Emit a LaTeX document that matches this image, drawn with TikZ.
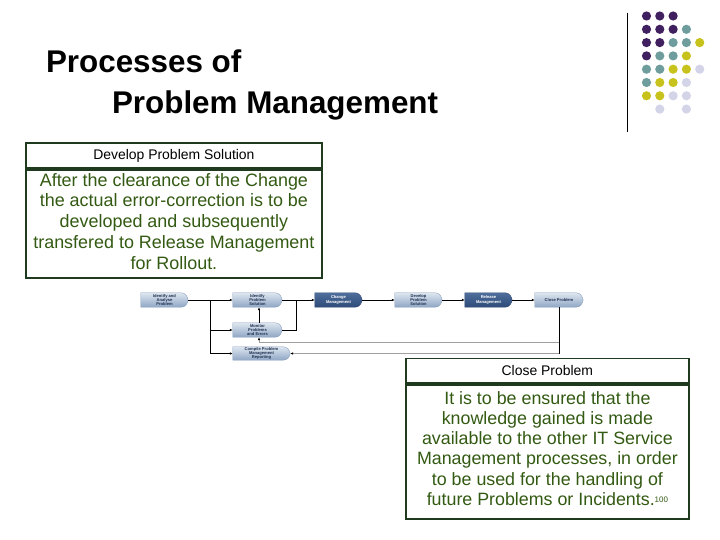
\documentclass[tikz,border=0pt]{standalone}
\usepackage{fontspec}
\setmainfont{Liberation Sans}
\usetikzlibrary{arrows.meta,backgrounds}
\definecolor{dpur}{HTML}{40205E}
\definecolor{dteal}{HTML}{6F9C9C}
\definecolor{dyel}{HTML}{C8C31C}
\definecolor{dlav}{HTML}{D4D4E8}
\definecolor{txtgreen}{HTML}{335A12}
\definecolor{boxline}{HTML}{1F3A1F}
\definecolor{lighttop}{HTML}{DDE6F0}
\definecolor{lightbot}{HTML}{8FA6C4}
\definecolor{darktop}{HTML}{4E6E9C}
\definecolor{darkbot}{HTML}{2E4A78}
\definecolor{feedgray}{HTML}{A0A0A0}
\definecolor{navytext}{HTML}{203050}
\definecolor{lightedge}{HTML}{7F96B6}
\definecolor{darkedge}{HTML}{2A4470}
\newcommand\flowshape[2]{%
  \path[#2] (#1.north west) -- ([xshift=-7bp]#1.north east)
    to[out=0,in=100] (#1.east) to[out=-100,in=0] ([xshift=-7bp]#1.south east)
    -- (#1.south west) -- cycle;}
\begin{document}
\begin{tikzpicture}[x=1bp,y=-1bp,
  titletext/.style={anchor=base west,font=\bfseries\fontsize{31.5}{36}\selectfont},
  hdrbox/.style={draw=boxline,line width=1.8bp,anchor=north west,inner sep=0pt,
    font=\fontsize{14}{16}\selectfont,text=black},
  framebox/.style={draw=boxline,line width=1.8bp,anchor=north west,inner sep=0pt},
  bodytext/.style={inner sep=0pt,align=center,text=txtgreen},
  fbox/.style={minimum height=14bp,inner sep=0pt,align=center,
    font=\fontsize{4.1}{4.3}\selectfont\bfseries},
  lightf/.style={fbox,text=navytext},
  darkf/.style={fbox,text=white},
  lightfill/.style={top color=lighttop,bottom color=lightbot,draw=lightedge,line width=0.3bp},
  darkfill/.style={top color=darktop,bottom color=darkbot,draw=darkedge,line width=0.3bp},
  conn/.style={line width=0.9bp,black},
  arr/.style={conn,-{Latex[length=3bp,width=2.6bp]}},
  garr/.style={line width=0.9bp,feedgray,-{Latex[length=3bp,width=2.6bp,fill=black,color=black]}}
]
\path[use as bounding box] (0,0) rectangle (720,540);

% title
\node[titletext] (t1) at (42.5,73) {Processes of};
\node[titletext] (t2) at (108.5,114) {Problem Management};

% decoration: line and dots
\draw[line width=1.2bp,black] (627.3,12.7) -- (627.3,131.7);
\foreach \r/\c/\col in {0/0/dpur,0/1/dpur,0/2/dpur,
  1/0/dpur,1/1/dpur,1/2/dpur,1/3/dteal,
  2/0/dpur,2/1/dpur,2/2/dteal,2/3/dteal,2/4/dyel,
  3/0/dpur,3/1/dteal,3/2/dteal,3/3/dyel,
  4/0/dteal,4/1/dteal,4/2/dyel,4/3/dyel,4/4/dlav,
  5/0/dteal,5/1/dyel,5/2/dyel,5/3/dlav,
  6/0/dyel,6/1/dyel,6/2/dlav,6/3/dlav,
  7/1/dlav,7/3/dlav}
  \fill[\col] (646.5+13.3*\c,16+13.3*\r) circle[radius=4.6];

% Develop Problem Solution box
\node[hdrbox,minimum width=296bp,minimum height=24.5bp] (dh) at (25,142.5) {Develop Problem Solution};
\node[framebox,minimum width=296bp,minimum height=108.5bp] (db) at (dh.south west) {};
\node[bodytext,font=\fontsize{18}{21}\selectfont] (dbt) at ([yshift=2.5bp]db.center)
  {After the clearance of the Change\\the actual error-correction is to be\\developed and subsequently\\transfered to Release Management\\for Rollout.};

% flow diagram nodes
\node[lightf,minimum width=47bp] (b1) at (164.5,300) {Identify and\\Analyse\\Problem};
\node[lightf,minimum width=49bp] (b2) at (257.5,300) {Identify\\Problem\\Solution};
\node[darkf,minimum width=47bp]  (b3) at (338.5,300) {Change\\Management};
\node[lightf,minimum width=47bp] (b4) at (418.5,300) {Develop\\Problem\\Solution};
\node[darkf,minimum width=47bp]  (b5) at (488.5,300) {Release\\Management};
\node[lightf,minimum width=48bp] (b6) at (559,300) {Close Problem};
\node[lightf,minimum width=49bp] (b7) at (257.5,330) {Monitor\\Problems\\and Errors};
\node[lightf,minimum width=57bp,minimum height=13bp] (b8) at (261.5,353.5) {Compile Problem\\Management\\Reporting};

\begin{scope}[on background layer]
  \fill[white] (0,0) rectangle (720,540);
  \flowshape{b1}{lightfill}
  \flowshape{b2}{lightfill}
  \flowshape{b3}{darkfill}
  \flowshape{b4}{lightfill}
  \flowshape{b5}{darkfill}
  \flowshape{b6}{lightfill}
  \flowshape{b7}{lightfill}
  \flowshape{b8}{lightfill}
\end{scope}

\coordinate (j1) at (210,300);
\coordinate (j2) at (296,300);
\coordinate (j3) at (559,342);
\coordinate (j4) at (559,353.5);

\draw[arr] (b1.east) -- (b2.west);
\draw[conn] (j1) -- (j1 |- b8.west);
\draw[arr] (j1 |- b7.west) -- (b7.west);
\draw[arr] (j1 |- b8.west) -- (b8.west);
\draw[arr] (b2.east) -- (b3.west);
\draw[arr] (b3.east) -- (b4.west);
\draw[arr] (b4.east) -- (b5.west);
\draw[arr] (b5.east) -- (b6.west);
\draw[arr] ([xshift=1.5bp]b7.north) -- ([xshift=1.5bp]b2.south);
\draw[conn] (b7.east) -| (j2);
\draw[conn] (b6.south) -- (j4);
\draw[garr] (j3) -| ([xshift=1.5bp]b7.south);
\draw[garr] (j4) -- (b8.east);

% Close Problem box
\node[hdrbox,minimum width=283bp,minimum height=24.5bp] (ch) at (405,357.5) {Close Problem};
\node[framebox,minimum width=283bp,minimum height=134.5bp] (cb) at (ch.south west) {};
\node[bodytext,font=\fontsize{17.9}{20.4}\selectfont] (cbt) at ([yshift=3.5bp]cb.center)
  {It is to be ensured that the\\knowledge gained is made\\available to the other IT Service\\Management processes, in order\\to be used for the handling of\\future Problems or Incidents.\raisebox{3bp}{\fontsize{8}{8}\selectfont 100}};
\end{tikzpicture}
\end{document}
